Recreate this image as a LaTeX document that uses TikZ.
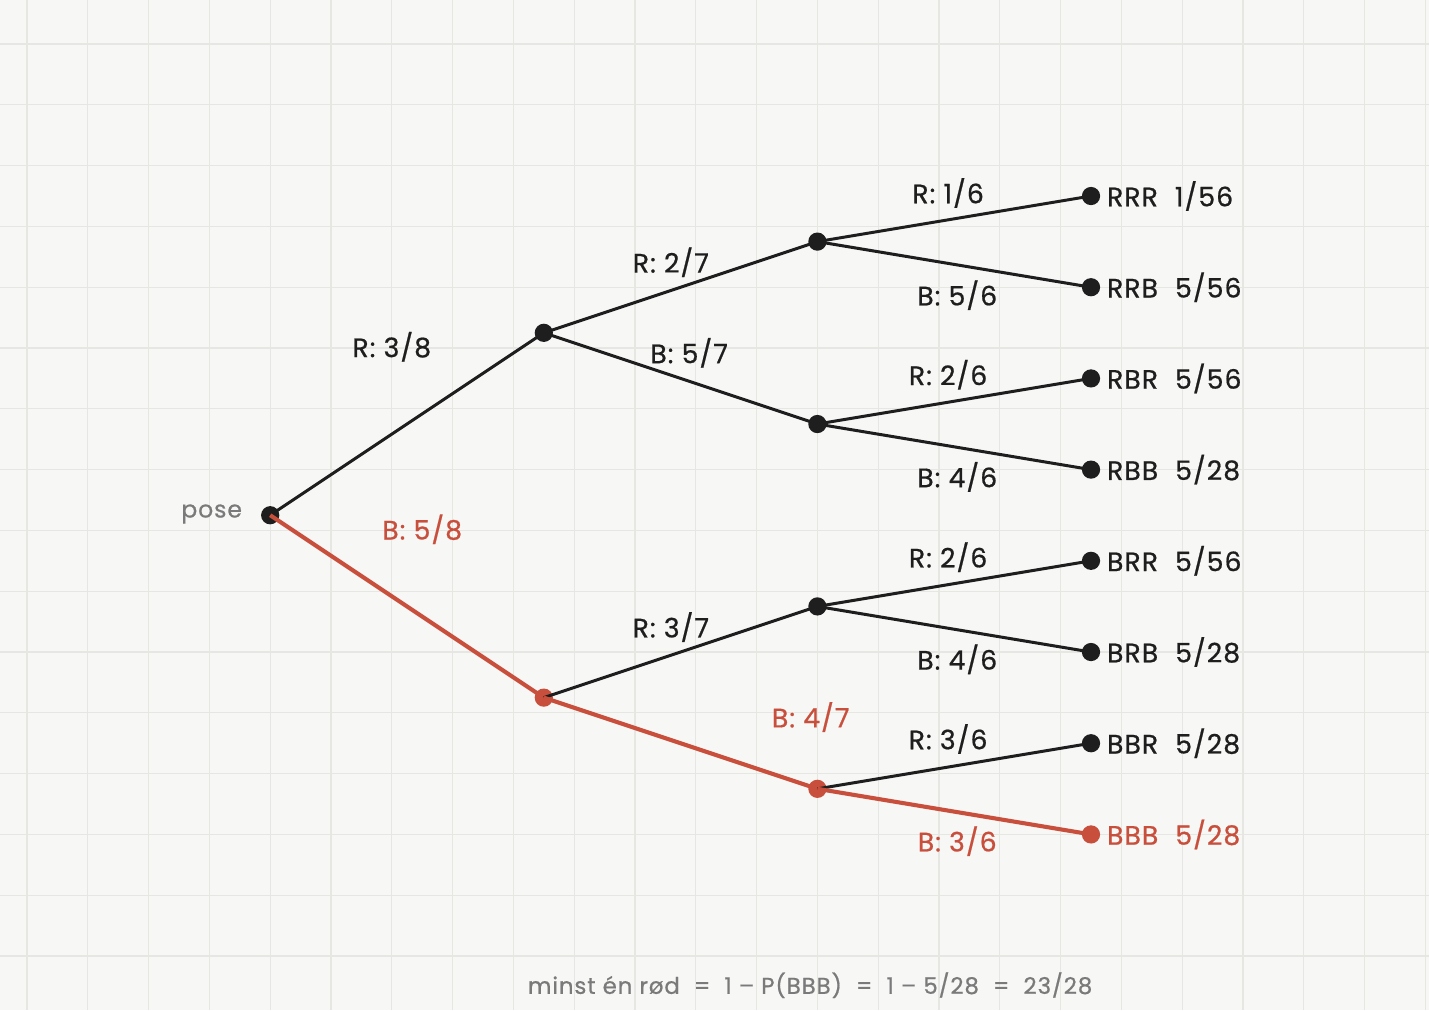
\documentclass[tikz,border=0pt]{standalone}
\usepackage{fontspec}
\setmainfont{Poppins}[FakeBold=0.7, LetterSpace=4]
\usetikzlibrary{positioning}

\definecolor{ink}{HTML}{1E1E1E}
\definecolor{rust}{HTML}{C94F3D}
\definecolor{paper}{HTML}{F7F7F5}
\definecolor{gridline}{HTML}{E6E6E2}
\definecolor{note}{HTML}{7A7A7A}

\tikzset{
	treedot/.style={circle, fill=ink, inner sep=0pt, minimum size=0.3cm},
	reddot/.style={treedot, fill=rust},
	branch/.style={ink, line width=1.4pt},
	redbranch/.style={rust, line width=1.9pt},
	prob/.style={text=ink, inner sep=0pt, font=\fontsize{12.5}{14}\selectfont},
	redprob/.style={prob, text=rust},
}

\begin{document}
\begin{tikzpicture}

	% paper and grid
	\useasboundingbox (-0.444,0.724) rectangle (23.059,-15.888);
	\fill[paper] (-0.444,0.724) rectangle (23.059,-15.888);
	\foreach \x in {0, 1, ..., 23}
	{
		\draw[gridline, line width=0.6pt] (\x, 0.724) -- (\x, -15.888);
	}
	\foreach \y in {0, 1, ..., 15}
	{
		\draw[gridline, line width=0.6pt] (-0.444, -\y) -- (23.059, -\y);
	}

	% dots
	\node[treedot] (root) at (4, -7.75) {};
	\node[treedot] (a1) at (8.5, -4.75) {};
	\node[reddot] (a2) at (8.5, -10.75) {};
	\node[treedot] (b1) at (13, -3.25) {};
	\node[treedot] (b2) at (13, -6.25) {};
	\node[treedot] (b3) at (13, -9.25) {};
	\node[reddot] (b4) at (13, -12.25) {};
	\foreach \i in {1, 2, ..., 7}
	{
		\node[treedot] (l\i) at (17.5, -1 - \i*1.5) {};
	}
	\node[reddot] (l8) at (17.5, -13) {};

	\node[text=note, inner sep=0pt, font=\fontsize{11}{13}\selectfont, left=0.3cm of root, yshift=0.02cm] (pose) {pose};

	% branches
	\draw[branch] (root.center) -- (a1.center);
	\draw[redbranch] (root.center) -- (a2.center);
	\draw[branch] (a1.center) -- (b1.center);
	\draw[branch] (a1.center) -- (b2.center);
	\draw[branch] (a2.center) -- (b3.center);
	\draw[redbranch] (a2.center) -- (b4.center);
	\draw[branch] (b1.center) -- (l1.center);
	\draw[branch] (b1.center) -- (l2.center);
	\draw[branch] (b2.center) -- (l3.center);
	\draw[branch] (b2.center) -- (l4.center);
	\draw[branch] (b3.center) -- (l5.center);
	\draw[branch] (b3.center) -- (l6.center);
	\draw[branch] (b4.center) -- (l7.center);
	\draw[redbranch] (b4.center) -- (l8.center);

	% branch labels
	\node[prob] (p1) at (6, -4.98) {R: 3/8};
	\node[redprob] (p2) at (6.5, -7.98) {B: 5/8};
	\node[prob] (p3) at (10.59, -3.59) {R: 2/7};
	\node[prob] (p4) at (10.89, -5.08) {B: 5/7};
	\node[prob] (p5) at (10.59, -9.59) {R: 3/7};
	\node[redprob] (p6) at (12.89, -11.07) {B: 4/7};
	\node[prob] (p7) at (15.15, -2.45) {R: 1/6};
	\node[prob] (p8) at (15.3, -4.13) {B: 5/6};
	\node[prob] (p9) at (15.15, -5.44) {R: 2/6};
	\node[prob] (p10) at (15.3, -7.12) {B: 4/6};
	\node[prob] (p11) at (15.15, -8.44) {R: 2/6};
	\node[prob] (p12) at (15.3, -10.12) {B: 4/6};
	\node[prob] (p13) at (15.15, -11.43) {R: 3/6};
	\node[redprob] (p14) at (15.3, -13.11) {B: 3/6};

	% outcomes
	\node[prob, right=0.1cm of l1] (o1) {RRR\hspace{0.28cm}1/56};
	\node[prob, right=0.1cm of l2] (o2) {RRB\hspace{0.28cm}5/56};
	\node[prob, right=0.1cm of l3] (o3) {RBR\hspace{0.28cm}5/56};
	\node[prob, right=0.1cm of l4] (o4) {RBB\hspace{0.28cm}5/28};
	\node[prob, right=0.1cm of l5] (o5) {BRR\hspace{0.28cm}5/56};
	\node[prob, right=0.1cm of l6] (o6) {BRB\hspace{0.28cm}5/28};
	\node[prob, right=0.1cm of l7] (o7) {BBR\hspace{0.28cm}5/28};
	\node[redprob, right=0.1cm of l8] (o8) {BBB\hspace{0.28cm}5/28};

	% complement
	\node[text=note, inner sep=0pt, font=\fontsize{10.7}{13}\selectfont] (sum) at (12.88, -15.48)
		{minst én rød\ \ =\ \ 1 – P(BBB)\ \ =\ \ 1 – 5/28\ \ =\ \ 23/28};

\end{tikzpicture}
\end{document}
